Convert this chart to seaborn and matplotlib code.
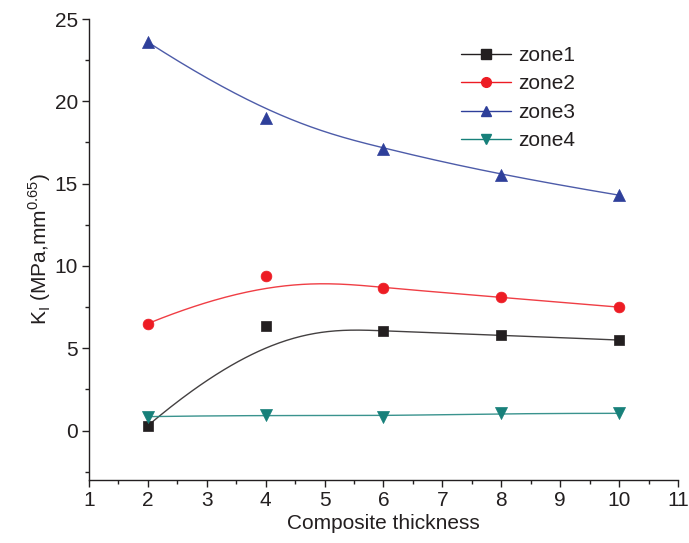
import numpy as np
import pandas as pd
import matplotlib
matplotlib.use("Agg")
import matplotlib.pyplot as plt
from matplotlib.lines import Line2D
from matplotlib.ticker import MultipleLocator
import seaborn as sns

# ---- data ----
thickness = [2, 4, 6, 8, 10]
zone1 = [0.3, 6.35, 6.05, 5.8, 5.5]
zone2 = [6.5, 9.4, 8.65, 8.1, 7.5]
zone3 = [23.6, 19.0, 17.1, 15.5, 14.3]
zone4 = [0.85, 0.95, 0.85, 1.05, 1.05]
series_names = ["zone1", "zone2", "zone3", "zone4"]
x_ticks = list(range(1, 12))
y_ticks = [0, 5, 10, 15, 20, 25]

colors = {"zone1": "#231f20", "zone2": "#ed1c24", "zone3": "#2e3f9a", "zone4": "#17807a"}
markers = {"zone1": "s", "zone2": "o", "zone3": "^", "zone4": "v"}
msizes = {"zone1": 55, "zone2": 60, "zone3": 75, "zone4": 75}


def bspline(xs, ys, n=300, k=3):
    """Clamped B-spline using data points as control points (Origin-style B-spline connection)."""
    P = np.column_stack([xs, ys]).astype(float)
    m = len(P)
    inner = np.linspace(0, 1, m - k + 1)[1:-1]
    knots = np.concatenate([np.zeros(k + 1), inner, np.ones(k + 1)])
    t = np.linspace(0, 1, n)
    t[-1] = 1 - 1e-12

    def basis(i, p, tt):
        if p == 0:
            return ((knots[i] <= tt) & (tt < knots[i + 1])).astype(float)
        a = np.zeros_like(tt)
        d1 = knots[i + p] - knots[i]
        if d1 > 0:
            a += (tt - knots[i]) / d1 * basis(i, p - 1, tt)
        d2 = knots[i + p + 1] - knots[i + 1]
        if d2 > 0:
            a += (knots[i + p + 1] - tt) / d2 * basis(i + 1, p - 1, tt)
        return a

    B = np.column_stack([basis(i, k, t) for i in range(m)])
    C = B @ P
    return C[:, 0], C[:, 1]


sns.set_style("ticks")
plt.rcParams["font.family"] = ["Liberation Sans", "DejaVu Sans"]
plt.rcParams["mathtext.fontset"] = "custom"
plt.rcParams["mathtext.rm"] = "Liberation Sans"

fig = plt.figure(figsize=(6.89, 5.43), dpi=100)
ax = fig.add_axes([0.129, 0.116, 0.855, 0.849])

data = {"zone1": zone1, "zone2": zone2, "zone3": zone3, "zone4": zone4}
for name in series_names:
    cx, cy = bspline(thickness, data[name])
    sns.lineplot(x=cx, y=cy, sort=False, estimator=None, ax=ax,
                 color=colors[name], linewidth=1.0, alpha=0.85)
    df = pd.DataFrame({"x": thickness, "y": data[name]})
    sns.scatterplot(data=df, x="x", y="y", ax=ax, marker=markers[name],
                    s=msizes[name], color=colors[name], edgecolor=colors[name],
                    linewidth=0.5, zorder=3)

ax.set_xlim(1, 11)
ax.set_ylim(-3, 25)
ax.set_xticks(x_ticks)
ax.set_yticks(y_ticks)
ax.xaxis.set_minor_locator(MultipleLocator(0.5))
ax.yaxis.set_minor_locator(MultipleLocator(2.5))
ax.tick_params(which="major", direction="out", length=5, width=1, labelsize=15, colors="#231f20", pad=3)
ax.tick_params(which="minor", direction="out", length=3, width=1, colors="#231f20")
sns.despine(ax=ax)
for sp in ("left", "bottom"):
    ax.spines[sp].set_linewidth(1.0)
    ax.spines[sp].set_color("#231f20")

ax.set_xlabel("Composite thickness", fontsize=15, color="#231f20", labelpad=3)
ax.set_ylabel(r"K$_\mathregular{I}$ (MPa,mm$^\mathregular{0.65}$)", fontsize=15,
              color="#231f20", labelpad=1)

handles = [Line2D([0], [0], color=colors[n], marker=markers[n], markersize=7,
                  linewidth=1.0, alpha=1) for n in series_names]
leg = ax.legend(handles, series_names, loc="upper left", bbox_to_anchor=(0.60, 0.982),
                frameon=False, fontsize=15, handlelength=2.4, handletextpad=0.35,
                labelspacing=0.45)
for t in leg.get_texts():
    t.set_color("#231f20")

fig.savefig("out.png", dpi=100)
